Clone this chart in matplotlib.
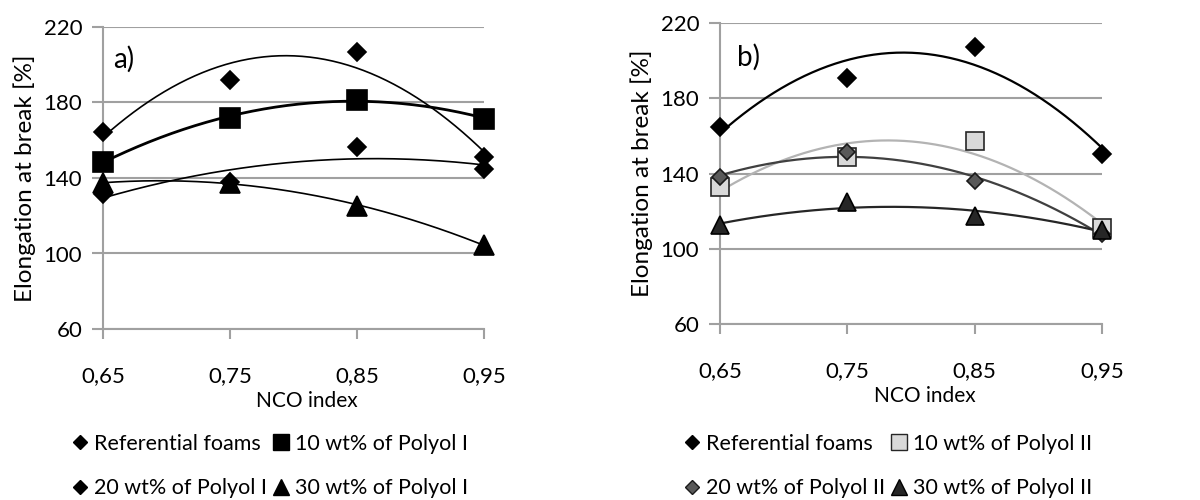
import numpy as np
import matplotlib
matplotlib.use("Agg")
import matplotlib.pyplot as plt
from matplotlib.lines import Line2D

plt.rcParams['font.family'] = ['Lato', 'DejaVu Sans']

nco = [0.65, 0.75, 0.85, 0.95]
xtick_labels = ["0,65", "0,75", "0,85", "0,95"]
yticks = [60, 100, 140, 180, 220]

# Panel a) - Polyol I
ref_a = [164.5, 192.0, 207.0, 151.0]
p10_a = [148.5, 172.0, 181.5, 171.5]
p20_a = [131.5, 138.0, 156.5, 144.8]
p30_a = [137.3, 137.5, 125.3, 104.5]

# Panel b) - Polyol II
ref_b = [164.5, 191.0, 207.0, 150.5]
p10_b = [132.9, 148.9, 157.4, 111.0]
p20_b = [138.2, 151.2, 135.9, 108.0]
p30_b = [112.4, 124.7, 117.2, 110.0]

labels_a = ["Referential foams", "10 wt% of Polyol I", "20 wt% of Polyol I", "30 wt% of Polyol I"]
labels_b = ["Referential foams", "10 wt% of Polyol II", "20 wt% of Polyol II", "30 wt% of Polyol II"]

fig = plt.figure(figsize=(12, 5), dpi=100)
ax_a = fig.add_axes([0.0858, 0.342, 0.3175, 0.604])
ax_b = fig.add_axes([0.600, 0.352, 0.3183, 0.602])

grid_c = "#a0a0a0"

def style(ax, tag, tx, ty):
    ax.set_xlim(0.65, 0.95)
    ax.set_ylim(60, 220)
    ax.set_yticks(yticks)
    ax.set_xticks(nco)
    ax.set_xticklabels(xtick_labels)
    for s in ("top", "right"):
        ax.spines[s].set_visible(False)
    for s in ("left", "bottom"):
        ax.spines[s].set_color(grid_c)
        ax.spines[s].set_linewidth(1.5)
    ax.grid(axis="y", color=grid_c, linewidth=1.5)
    ax.set_axisbelow(True)
    ax.tick_params(axis="y", direction="out", length=8, width=1.5, color=grid_c,
                   labelsize=16, pad=7)
    ax.tick_params(axis="x", direction="out", length=7, width=1.5, color=grid_c,
                   labelsize=16, pad=20)
    ax.set_xlabel("NCO index", fontsize=15, labelpad=1)
    ax.xaxis.set_label_coords(0.535, -0.205)
    ax.set_ylabel("Elongation at break [%]", fontsize=17.5, labelpad=5)
    ax.text(tx, ty, tag, fontsize=20, va="center", ha="left")

def series(ax, y, marker, ms, face, edge, lcolor, lw):
    x = np.array(nco)
    coef = np.polyfit(x, y, 2)
    xx = np.linspace(0.65, 0.95, 200)
    ax.plot(xx, np.polyval(coef, xx), color=lcolor, linewidth=lw, zorder=3, clip_on=False)
    ax.plot(x, y, linestyle="none", marker=marker, markersize=ms, markerfacecolor=face,
            markeredgecolor=edge, markeredgewidth=1.2, zorder=4, clip_on=False)

style(ax_a, "a)", 0.658, 203)
series(ax_a, ref_a, "D", 9, "black", "black", "black", 1.2)
series(ax_a, p10_a, "s", 14.5, "black", "black", "black", 2.0)
series(ax_a, p20_a, "D", 9, "black", "black", "black", 1.2)
series(ax_a, p30_a, "^", 14, "black", "black", "black", 1.2)

style(ax_b, "b)", 0.663, 202)
series(ax_b, ref_b, "D", 9, "black", "black", "black", 1.6)
series(ax_b, p10_b, "s", 12.5, "#d9d9d9", "#262626", "#b3b3b3", 1.6)
series(ax_b, p20_b, "D", 8.5, "#595959", "#1a1a1a", "#404040", 1.6)
series(ax_b, p30_b, "^", 13.5, "#262626", "#000000", "#262626", 1.6)

def legend_handles(faces, edges):
    mk = [("D", 7), ("s", 11), ("D", 7), ("^", 11)]
    return [Line2D([], [], linestyle="none", marker=m, markersize=s,
                   markerfacecolor=f, markeredgecolor=e, markeredgewidth=1.0)
            for (m, s), f, e in zip(mk, faces, edges)]

def add_legend(handles, labels, cx):
    order = [0, 2, 1, 3]
    fig.legend([handles[i] for i in order], [labels[i] for i in order],
               loc="center", bbox_to_anchor=(cx, 0.068), ncol=2, frameon=False,
               fontsize=15.5, handlelength=0.7, handletextpad=0.3,
               columnspacing=0.3, labelspacing=1.15, borderpad=0)

h_a = legend_handles(["black"] * 4, ["black"] * 4)
h_b = legend_handles(["black", "#d9d9d9", "#595959", "#262626"],
                     ["black", "#262626", "#1a1a1a", "black"])
add_legend(h_a, labels_a, 0.225)
add_legend(h_b, labels_b, 0.740)

fig.savefig("out.png", dpi=100)
